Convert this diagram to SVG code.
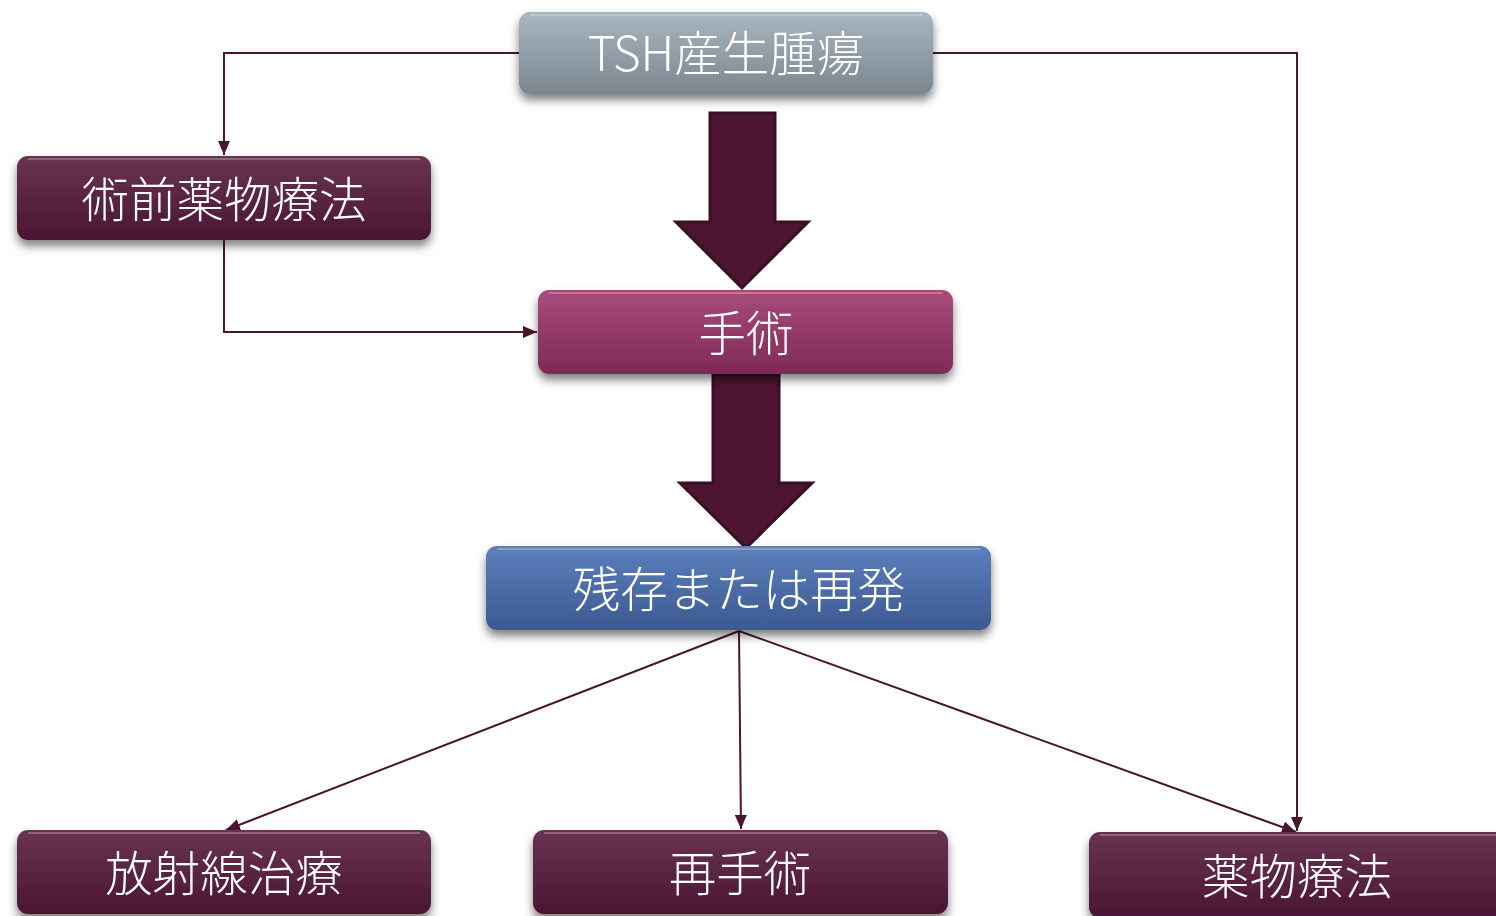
<svg xmlns="http://www.w3.org/2000/svg" width="1496" height="916" viewBox="0 0 1496 916">
<defs>
<style>
.lbl{font-family:"Noto Sans CJK JP","Noto Sans",sans-serif;font-size:47.5px;fill:#ffffff;text-anchor:middle;font-weight:300}
.con{fill:none;stroke:#4a1530;stroke-width:2}
.big{fill:#4e1532;stroke:#3a0e25;stroke-width:3}
.hl{fill:none;stroke:#ffffff;stroke-opacity:0.25;stroke-width:2}
</style>
<linearGradient id="gGray" x1="0" y1="0" x2="0" y2="1">
<stop offset="0" stop-color="#aab6bf"/><stop offset="1" stop-color="#7a8690"/>
</linearGradient>
<linearGradient id="gMar" x1="0" y1="0" x2="0" y2="1">
<stop offset="0" stop-color="#693352"/><stop offset="1" stop-color="#4a1633"/>
</linearGradient>
<linearGradient id="gPink" x1="0" y1="0" x2="0" y2="1">
<stop offset="0" stop-color="#a94b7c"/><stop offset="1" stop-color="#7e2a57"/>
</linearGradient>
<linearGradient id="gBlue" x1="0" y1="0" x2="0" y2="1">
<stop offset="0" stop-color="#5d7fbd"/><stop offset="1" stop-color="#3b5a91"/>
</linearGradient>
<filter id="sh" x="-10%" y="-20%" width="120%" height="160%">
<feDropShadow dx="0" dy="6" stdDeviation="5" flood-color="#000" flood-opacity="0.5"/>
</filter>
<marker id="ah" viewBox="0 0 14 12" refX="14" refY="6" markerWidth="14" markerHeight="12" markerUnits="userSpaceOnUse" orient="auto">
<path d="M0,0 L14,6 L0,12 Z" fill="#4a1530"/>
</marker>
</defs>
<rect width="1496" height="916" fill="#ffffff"/>

<g id="connectors">
<polyline class="con" points="519,53 224,53 224,155" marker-end="url(#ah)"/>
<polyline class="con" points="933,53 1297,53 1297,831" marker-end="url(#ah)"/>
<polyline class="con" points="224,240 224,332 537,332" marker-end="url(#ah)"/>
<line class="con" x1="739" y1="631" x2="226" y2="830" marker-end="url(#ah)"/>
<line class="con" x1="739" y1="631" x2="741" y2="829" marker-end="url(#ah)"/>
<line class="con" x1="739" y1="631" x2="1296" y2="832" marker-end="url(#ah)"/>
<polygon class="big" points="710,113 775,113 775,222 808,222 742,288 676,222 710,222"/>
<polygon class="big" points="713,374 779,374 779,483 812,483 746,548 680,483 713,483"/>
</g>

<g id="tsh" filter="url(#sh)">
<rect x="519" y="12" width="414" height="82" rx="11" fill="url(#gGray)"/>
<line class="hl" x1="530" y1="15" x2="922" y2="15"/>
<text class="lbl" x="726" y="71">TSH産生腫瘍</text>
</g>

<g id="preop" filter="url(#sh)">
<rect x="17" y="156" width="414" height="84" rx="11" fill="url(#gMar)"/>
<line class="hl" x1="28" y1="159" x2="420" y2="159"/>
<text class="lbl" x="224" y="217">術前薬物療法</text>
</g>

<g id="surgery" filter="url(#sh)">
<rect x="538" y="290" width="415" height="84" rx="11" fill="url(#gPink)"/>
<line class="hl" x1="549" y1="293" x2="942" y2="293"/>
<text class="lbl" x="746" y="351">手術</text>
</g>

<g id="residual" filter="url(#sh)">
<rect x="486" y="546" width="505" height="84" rx="11" fill="url(#gBlue)"/>
<line class="hl" x1="497" y1="549" x2="980" y2="549"/>
<text class="lbl" x="739" y="607">残存または再発</text>
</g>

<g id="radiation" filter="url(#sh)">
<rect x="17" y="830" width="414" height="84" rx="11" fill="url(#gMar)"/>
<line class="hl" x1="28" y1="833" x2="420" y2="833"/>
<text class="lbl" x="224" y="891">放射線治療</text>
</g>

<g id="reop" filter="url(#sh)">
<rect x="533" y="830" width="415" height="84" rx="11" fill="url(#gMar)"/>
<line class="hl" x1="544" y1="833" x2="937" y2="833"/>
<text class="lbl" x="740" y="891">再手術</text>
</g>

<g id="drug" filter="url(#sh)">
<rect x="1089" y="832" width="420" height="86" rx="11" fill="url(#gMar)"/>
<line class="hl" x1="1100" y1="835" x2="1496" y2="835"/>
<text class="lbl" x="1297" y="894">薬物療法</text>
</g>
</svg>
